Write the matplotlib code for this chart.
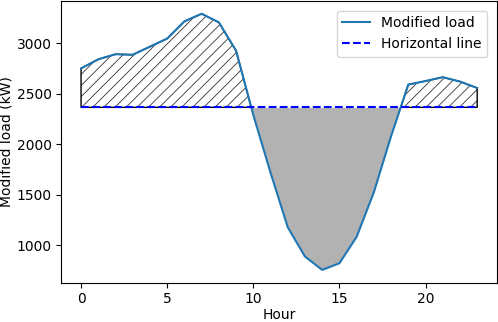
import numpy as np
import matplotlib
matplotlib.use("Agg")
import matplotlib.pyplot as plt

# values
hours = np.arange(24)
load = np.array([2750, 2840, 2890, 2885, 2965, 3045, 3215, 3290, 3205, 2925,
                 2290, 1720, 1180, 890, 758, 824, 1085, 1526, 2080, 2590,
                 2625, 2663, 2620, 2556])
level = 2365
line = np.full(len(hours), level)

plt.rcParams["hatch.linewidth"] = 0.6

fig, ax = plt.subplots(figsize=(4.98, 3.22), dpi=100)
fig.subplots_adjust(left=0.123, right=0.998, top=0.997, bottom=0.122)

ax.plot(hours, load, color="C0", label="Modified load")
ax.plot(hours, line, "b--", label="Horizontal line")

# hatched area above the line, grey area below it
ax.fill_between(hours, load, line, where=load > line, interpolate=True,
                facecolor="none", edgecolor="#333333", hatch="///", linewidth=0)
ax.fill_between(hours, load, line, where=load > line, interpolate=True,
                facecolor="none", edgecolor="k", linewidth=1)
ax.fill_between(hours, load, line, where=load < line, interpolate=True,
                color="gray", alpha=0.6, linewidth=0)

ax.set_xlabel("Hour", labelpad=1)
ax.set_ylabel("Modified load (kW)", labelpad=2)
ax.legend(loc="upper right", borderaxespad=0.7)

fig.savefig("out.png", dpi=100)
